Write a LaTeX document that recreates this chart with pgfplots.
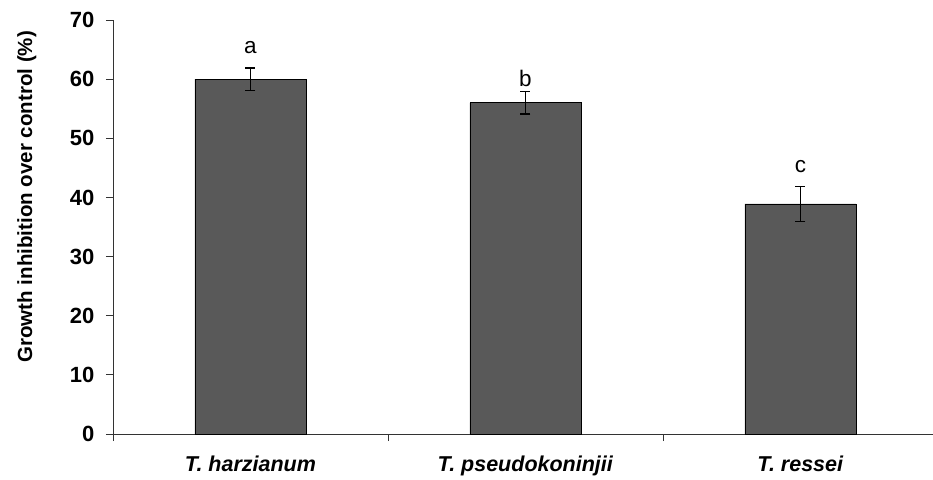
\documentclass[border=0pt]{standalone}
\usepackage{pgfplots}
\pgfplotsset{compat=1.18}
\usepackage{pgfplotstable}
\usepackage{fontspec}
\setmainfont{Liberation Sans}
\definecolor{barfill}{HTML}{595959}
\definecolor{axisgray}{HTML}{333333}
\pgfplotstableread{
x y err
0 60.0 1.9
1 56.0 1.9
2 38.9 3.0
}\bardata
\pgfplotstableread{
x y label
0 65.3 a
1 60.2 b
2 45.3 c
}\letterdata
\begin{document}
\begin{tikzpicture}
\begin{axis}[
  at={(0,0)}, anchor=south west,
  scale only axis, width=820pt, height=414pt,
  xmin=-0.5, xmax=2.482, ymin=0, ymax=70,
  axis x line*=bottom, axis y line*=left,
  axis line style={line width=0.9pt, axisgray},
  ytick={0,10,...,70},
  xtick={0,1,2},
  xticklabels={\textit{T. harzianum},\textit{T. pseudokoninjii},\textit{T. ressei}},
  major x tick style={draw=none},
  minor xtick={-0.5,0.5,1.5},
  minor x tick style={line width=0.9pt, axisgray},
  major y tick style={line width=0.9pt, axisgray},
  tick align=outside,
  major tick length=7pt, minor tick length=7pt,
  /pgf/number format/assume math mode=true,
  yticklabel style={font=\fontsize{22}{26}\selectfont\bfseries, xshift=-8pt},
  xticklabel style={font=\fontsize{21.5}{26}\selectfont\bfseries, yshift=-11pt},
  ylabel={Growth inhibition over control (\%)},
  ylabel style={font=\fontsize{20.5}{24}\selectfont\bfseries, at={(axis description cs:-0.105,0.573)}, anchor=center},
  clip=false,
]
\addplot[ybar, bar width=111pt, fill=barfill, draw=black, line width=0.8pt,
  error bars/.cd, y dir=both, y explicit,
  error bar style={line width=1.3pt, black},
  error mark options={rotate=90, mark size=5pt, line width=1.3pt, black}]
  table[x=x, y=y, y error=err] {\bardata};
\addplot[draw=none, nodes near coords, point meta=explicit symbolic,
  every node near coord/.append style={anchor=center, font=\fontsize{22.5}{26}\selectfont}]
  table[x=x, y=y, meta=label] {\letterdata};
\end{axis}
\pgfresetboundingbox
\path[use as bounding box] (-113pt,-45pt) rectangle (820pt,434pt);
\end{tikzpicture}
\end{document}
